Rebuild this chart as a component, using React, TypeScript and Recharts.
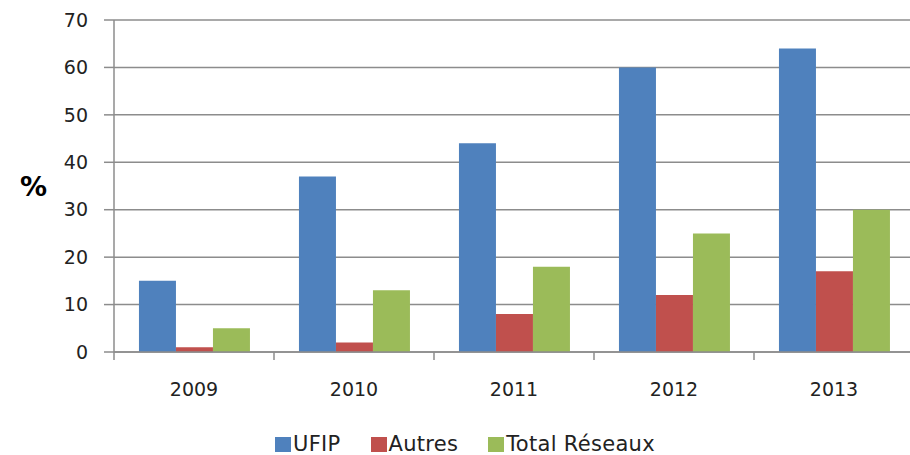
import React from "react"
import {
  BarChart,
  Bar,
  XAxis,
  YAxis,
  CartesianGrid,
} from "recharts"

const years = ["2009", "2010", "2011", "2012", "2013"]
const ufip = [15, 37, 44, 60, 64]
const autres = [1, 2, 8, 12, 17]
const totalReseaux = [5, 13, 18, 25, 30]
const yTicks = [0, 10, 20, 30, 40, 50, 60, 70]

const SERIES = [
  { key: "ufip", name: "UFIP", color: "#4F81BD" },
  { key: "autres", name: "Autres", color: "#C0504D" },
  { key: "total", name: "Total Réseaux", color: "#9BBB59" },
]

const data = years.map((year, i) => ({
  year,
  ufip: ufip[i],
  autres: autres[i],
  total: totalReseaux[i],
}))

const CHART_W = 914
const CHART_H = 455
const Y_AXIS_W = 114
const FONT = "'DejaVu Sans', Verdana, sans-serif"
const AXIS_COLOR = "#8c8c8c"
const BAND = (CHART_W - Y_AXIS_W) / years.length

// ticks sit between categories (Excel style), labels in the middle
function YearTick(props: any) {
  const { x, y, payload } = props
  const left = x - BAND / 2
  return (
    <g>
      <line x1={left} x2={left} y1={y - 8} y2={y} stroke={AXIS_COLOR} strokeWidth={1.5} />
      <text
        x={x}
        y={y + 36}
        textAnchor="middle"
        fontFamily={FONT}
        fontSize={19}
        fill="#222"
      >
        {payload.value}
      </text>
    </g>
  )
}

function ChartLegend() {
  return (
    <div
      style={{
        position: "absolute",
        left: 275,
        top: 434,
        display: "flex",
        alignItems: "center",
        gap: 30,
        fontFamily: FONT,
        fontSize: 21,
        lineHeight: "20px",
        letterSpacing: 0.3,
        color: "#222",
        whiteSpace: "nowrap",
      }}
    >
      {SERIES.map((s) => (
        <div key={s.key} style={{ display: "flex", alignItems: "center", gap: 2 }}>
          <div style={{ width: 16, height: 15, backgroundColor: s.color }} />
          <span>{s.name}</span>
        </div>
      ))}
    </div>
  )
}

export default function App() {
  return (
    <div
      style={{
        position: "absolute",
        left: 0,
        top: 0,
        width: 910,
        height: 455,
        overflow: "hidden",
        background: "#fff",
      }}
    >
      <BarChart
        width={CHART_W}
        height={CHART_H}
        data={data}
        margin={{ top: 20, right: 0, bottom: 0, left: 0 }}
        barCategoryGap="15.6%"
        barGap={0}
      >
        <CartesianGrid vertical={false} stroke={AXIS_COLOR} strokeWidth={1.5} />
        <XAxis
          dataKey="year"
          height={103}
          tickSize={8}
          tickMargin={0}
          tickLine={false}
          axisLine={{ stroke: AXIS_COLOR, strokeWidth: 1.5 }}
          tick={<YearTick />}
          interval={0}
        />
        <YAxis
          width={Y_AXIS_W}
          domain={[0, 70]}
          ticks={yTicks}
          interval={0}
          tickSize={10}
          tickMargin={16}
          axisLine={{ stroke: AXIS_COLOR, strokeWidth: 1.5 }}
          tickLine={{ stroke: AXIS_COLOR, strokeWidth: 1.5 }}
          tick={{ fontFamily: FONT, fontSize: 19, fill: "#222" }}
          label={{
            value: "%",
            position: "insideLeft",
            offset: 20,
            style: { fontFamily: FONT, fontSize: 27, fontWeight: "bold", fill: "#000" },
          }}
        />
        {SERIES.map((s) => (
          <Bar
            key={s.key}
            dataKey={s.key}
            name={s.name}
            fill={s.color}
            isAnimationActive={false}
          />
        ))}
      </BarChart>
      <ChartLegend />
    </div>
  )
}
